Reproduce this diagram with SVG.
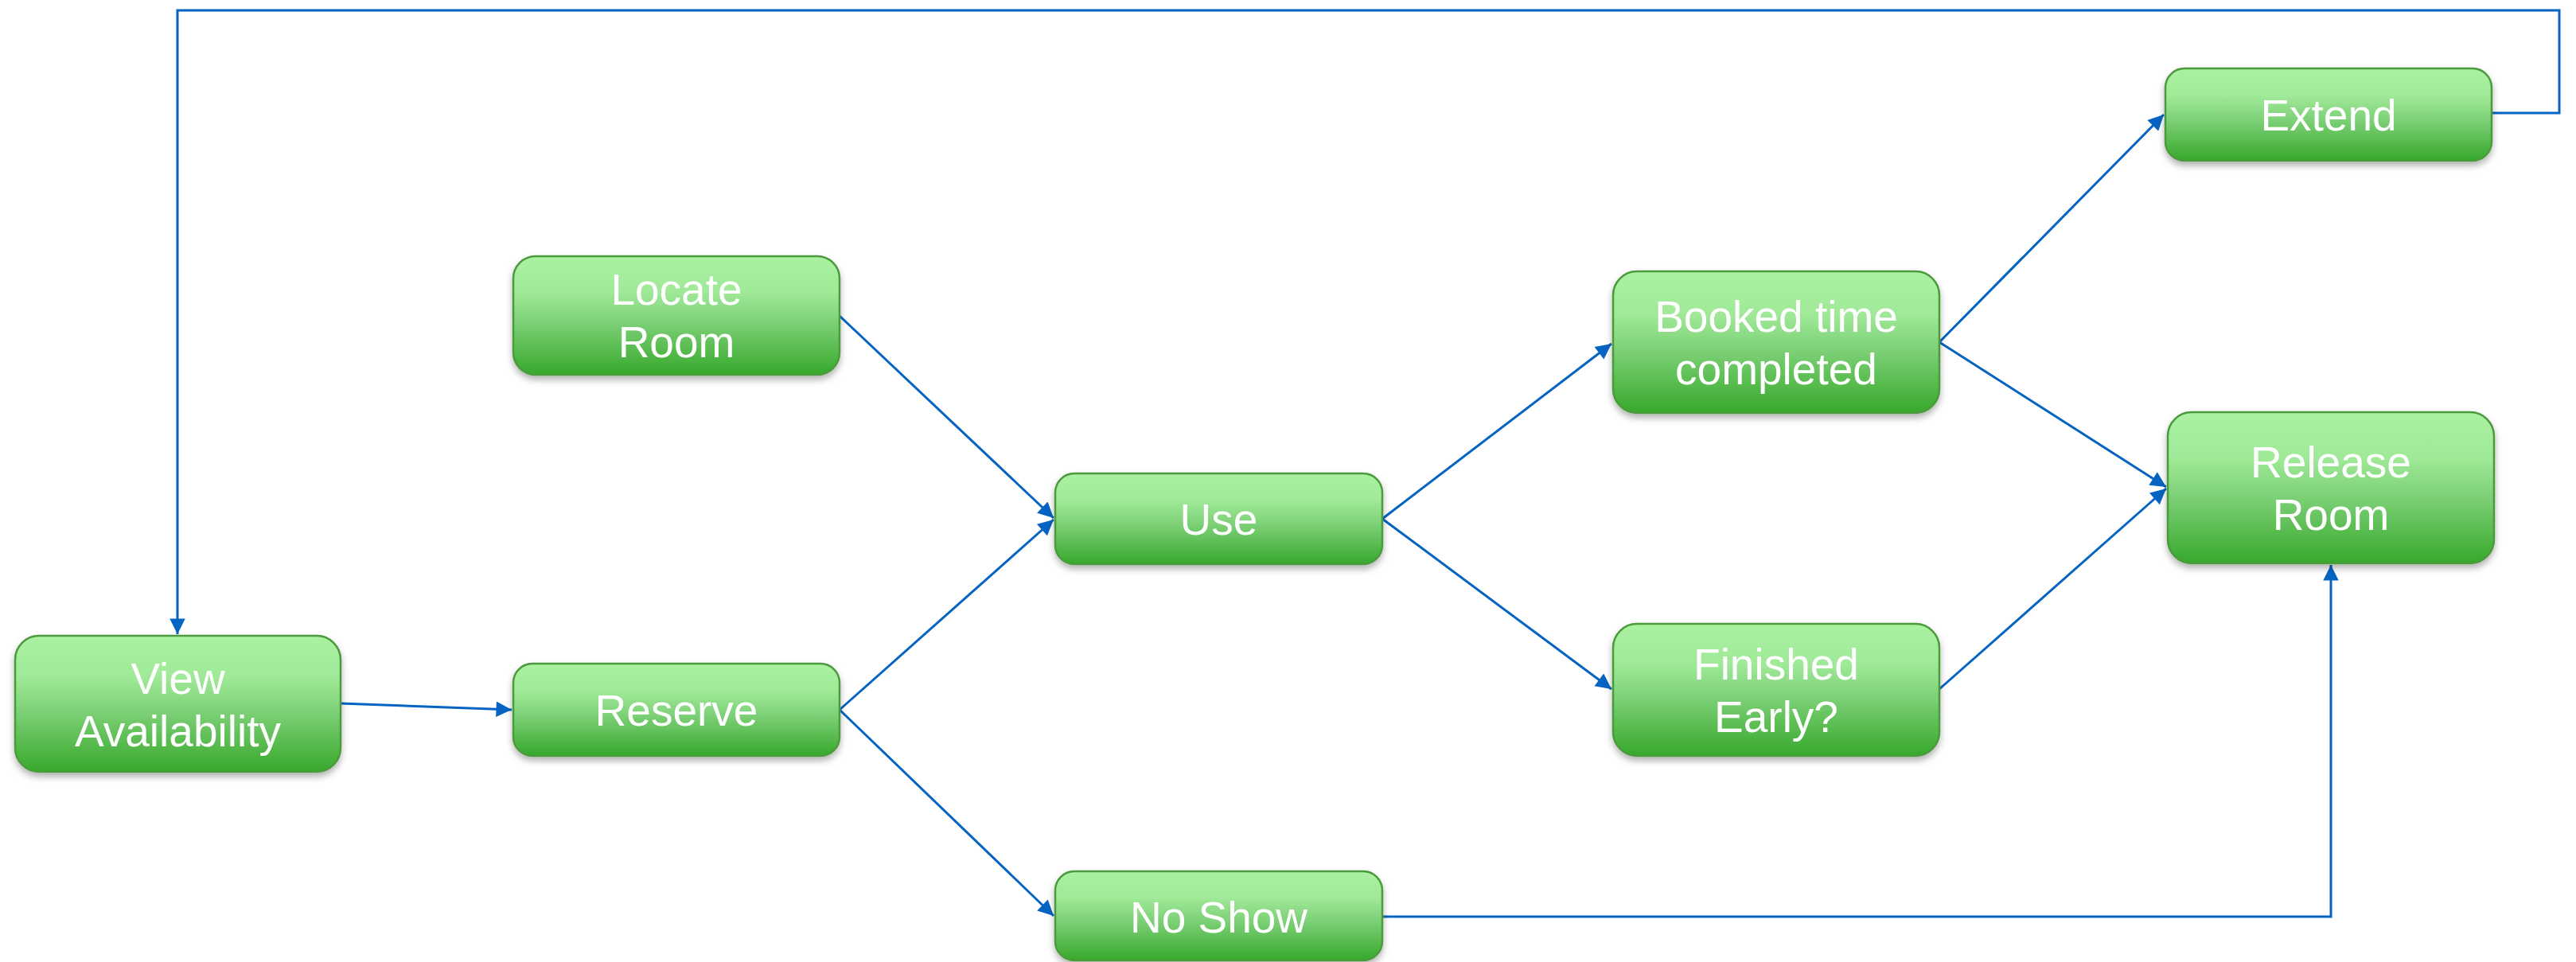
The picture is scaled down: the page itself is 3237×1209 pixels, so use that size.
<svg xmlns="http://www.w3.org/2000/svg" width="3237" height="1209" viewBox="0 0 3237 1209">
<defs>
<linearGradient id="g" x1="0" y1="0" x2="0" y2="1">
<stop offset="0" stop-color="#AAF2A2"/>
<stop offset="0.3" stop-color="#A0E998"/>
<stop offset="0.55" stop-color="#7ED178"/>
<stop offset="1" stop-color="#37A82B"/>
</linearGradient>
<filter id="sh" x="-10%" y="-10%" width="120%" height="130%">
<feDropShadow dx="0" dy="5" stdDeviation="4" flood-color="#000" flood-opacity="0.3"/>
</filter>
<marker id="ah" viewBox="0 0 10 10" refX="10" refY="5" markerWidth="8" markerHeight="6.5" markerUnits="strokeWidth" orient="auto">
<path d="M0,0 L10,5 L0,10 z" fill="#0563C1"/>
</marker>
</defs>
<style>
.n rect{fill:url(#g);stroke:#4C9A3C;stroke-width:2.5;filter:url(#sh)}
.n text{fill:#fff;font-family:"Liberation Sans",Arial,sans-serif;font-size:55px;text-anchor:middle}
.c path{fill:none;stroke:#0563C1;stroke-width:3;marker-end:url(#ah)}
</style>
<g id="connectors" class="c">
<path d="M3131,142 L3216,142 L3216,13 L223,13 L223,797"/>
<path d="M428,884 L643,892"/>
<path d="M1055,397 L1324,651"/>
<path d="M1055,892 L1324,653"/>
<path d="M1055,892 L1324,1151"/>
<path d="M1737,1152 L2929,1152 L2929,710"/>
<path d="M1737,652 L2025,432"/>
<path d="M1737,652 L2025,866"/>
<path d="M2437,430 L2719,144"/>
<path d="M2437,430 L2722,612"/>
<path d="M2437,866 L2722,614"/>
</g>
<g id="view-availability" class="n"><rect x="19" y="799" width="409" height="171" rx="30"/><text x="223.5" y="872">View</text><text x="223.5" y="938">Availability</text></g>
<g id="locate-room" class="n"><rect x="645" y="322" width="410" height="149" rx="28"/><text x="850" y="383">Locate</text><text x="850" y="449">Room</text></g>
<g id="reserve" class="n"><rect x="645" y="834" width="410" height="116" rx="24"/><text x="850" y="912">Reserve</text></g>
<g id="use" class="n"><rect x="1326" y="595" width="411" height="114" rx="24"/><text x="1531.5" y="672">Use</text></g>
<g id="no-show" class="n"><rect x="1326" y="1095" width="411" height="112" rx="24"/><text x="1531.5" y="1172">No Show</text></g>
<g id="booked-time-completed" class="n"><rect x="2027" y="341" width="410" height="178" rx="30"/><text x="2232" y="417">Booked time</text><text x="2232" y="483">completed</text></g>
<g id="finished-early" class="n"><rect x="2027" y="784" width="410" height="166" rx="30"/><text x="2232" y="854">Finished</text><text x="2232" y="920">Early?</text></g>
<g id="extend" class="n"><rect x="2721" y="86" width="410" height="116" rx="24"/><text x="2926" y="164">Extend</text></g>
<g id="release-room" class="n"><rect x="2724" y="518" width="410" height="190" rx="30"/><text x="2929" y="600">Release</text><text x="2929" y="666">Room</text></g>
</svg>
